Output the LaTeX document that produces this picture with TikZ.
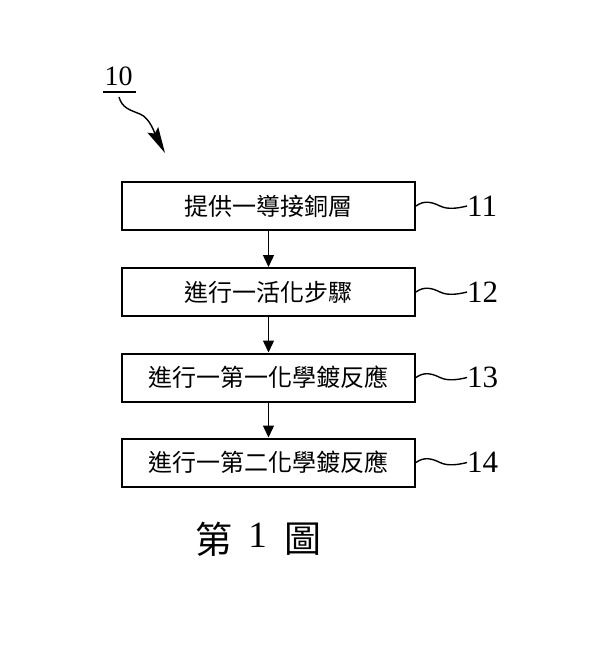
\documentclass[tikz,border=0pt]{standalone}
\usepackage{fontspec}
\setmainfont{Liberation Serif}
\newfontfamily\cjk{Noto Sans CJK TC}
\usetikzlibrary{arrows.meta}
\tikzset{
  stepbox/.style={draw, line width=2pt, minimum width=293pt, minimum height=48pt, inner sep=0pt,
    font=\cjk\fontsize{24}{28}\selectfont},
  flow/.style={line width=1.4pt, -{Triangle[length=12pt,width=11pt]}},
  refnum/.style={anchor=west, inner sep=0pt, font=\fontsize{31}{34}\selectfont},
  wave/.style={line width=1.4pt},
}
\begin{document}
\begin{tikzpicture}[x=1pt,y=-1pt]
\useasboundingbox (0,0) rectangle (600,649);
% label 10
\node[inner sep=0pt, font=\fontsize{28}{30}\selectfont] (ten) at (118.5,76) {10};
\coordinate (ul1) at (103,92);
\coordinate (ul2) at (136,92);
\draw[line width=1.5pt] (ul1) -- (ul2);
\coordinate (cs) at (119,97);
\coordinate (ce) at (165,153);
\draw[line width=1.4pt, -{Stealth[length=26pt,width=12pt,inset=4pt]}]
  (cs) .. controls (122,108) and (130,110) .. (140,114)
       .. controls (150,118) and (155,134) .. (ce);
% boxes
\node[stepbox] (b1) at (268.5,206) {提供一導接銅層};
\node[stepbox] (b2) at (268.5,292) {進行一活化步驟};
\node[stepbox] (b3) at (268.5,377.5) {進行一第一化學鍍反應};
\node[stepbox] (b4) at (268.5,462.5) {進行一第二化學鍍反應};
\draw[flow] (b1) -- (b2);
\draw[flow] (b2) -- (b3);
\draw[flow] (b3) -- (b4);
% reference numerals
\foreach \i/\n in {1/11,2/12,3/13,4/14}{
  \node[refnum] (l\i) at ([xshift=51pt]b\i.east) {\n};
  \draw[wave] (b\i.east) .. controls +(8,-6) and +(-8,-4) .. ++(24,0)
     .. controls +(8,4) and +(-8,2) .. (l\i.west);
}
% caption
\node[inner sep=0pt, font=\cjk\fontsize{37}{40}\selectfont] (cap1) at (214,539) {第};
\node[inner sep=0pt, font=\fontsize{37}{40}\selectfont] (cap2) at (257.5,535.5) {1};
\node[inner sep=0pt, font=\cjk\fontsize{37}{40}\selectfont] (cap3) at (302.5,539) {圖};
\end{tikzpicture}
\end{document}
